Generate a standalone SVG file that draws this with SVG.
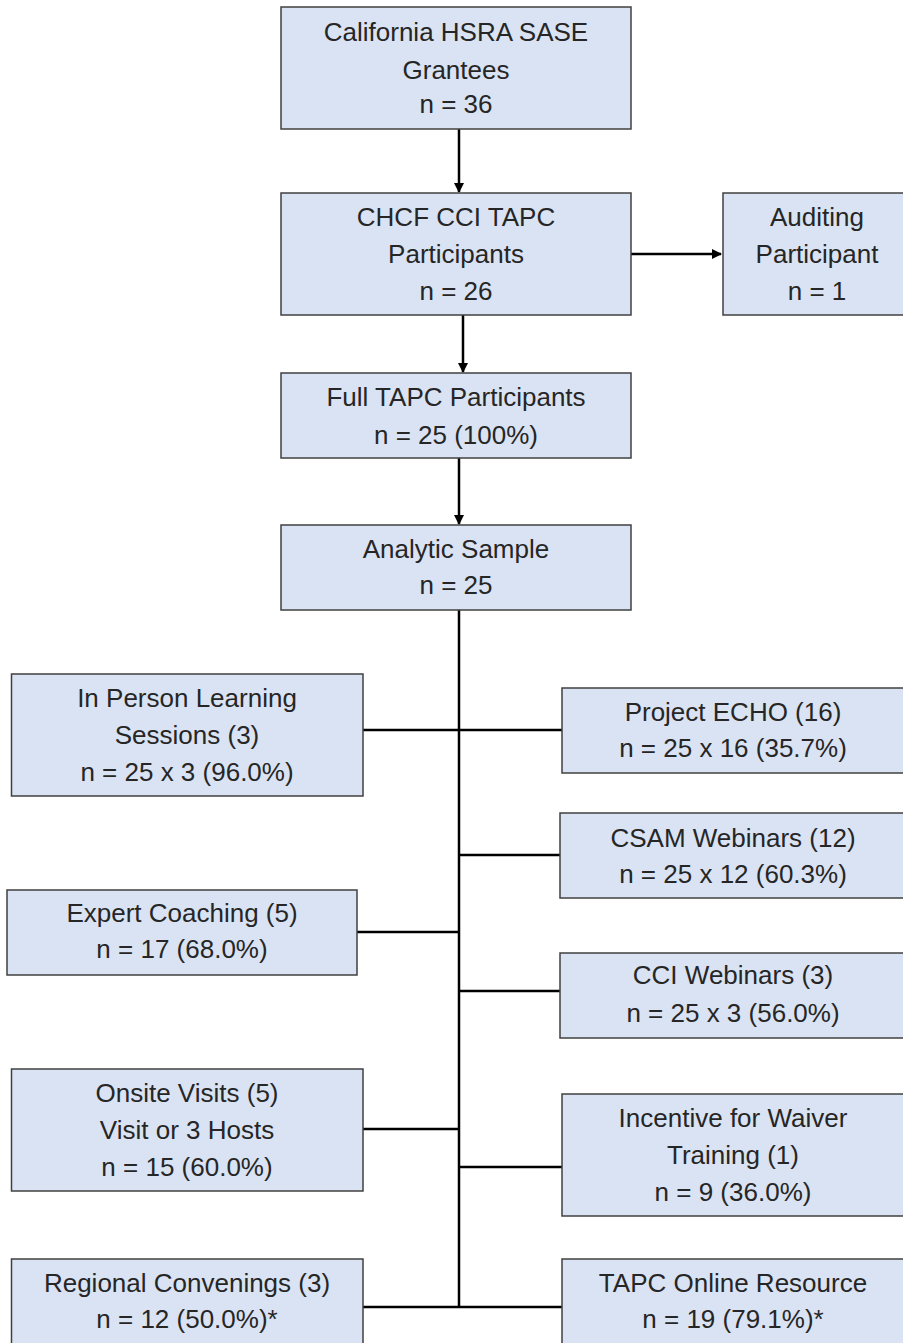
<svg xmlns="http://www.w3.org/2000/svg" width="903" height="1343" viewBox="0 0 903 1343">
<style>
.box{fill:#dae3f3;stroke:#404040;stroke-width:1.5}
.t{font-family:"Liberation Sans",Arial,sans-serif;font-size:26px;fill:#262626;text-anchor:middle}
.c{stroke:#000;stroke-width:2.5;fill:none}
</style>
<defs>
<marker id="ah" viewBox="0 0 10 10" refX="9" refY="5" markerWidth="10" markerHeight="10" markerUnits="userSpaceOnUse" orient="auto">
<path d="M0,0 L10,5 L0,10 z" fill="#000"/>
</marker>
</defs>
<rect width="903" height="1343" fill="#fff"/>
<g id="connectors">
<line class="c" x1="459" y1="129" x2="459" y2="192" marker-end="url(#ah)"/>
<line class="c" x1="631" y1="254" x2="721" y2="254" marker-end="url(#ah)"/>
<line class="c" x1="463" y1="315" x2="463" y2="372" marker-end="url(#ah)"/>
<line class="c" x1="459" y1="458" x2="459" y2="524" marker-end="url(#ah)"/>
<line class="c" x1="459" y1="610" x2="459" y2="1308"/>
<line class="c" x1="363" y1="730" x2="562" y2="730"/>
<line class="c" x1="459" y1="855" x2="562" y2="855"/>
<line class="c" x1="357" y1="932" x2="459" y2="932"/>
<line class="c" x1="459" y1="991" x2="562" y2="991"/>
<line class="c" x1="363" y1="1129" x2="459" y2="1129"/>
<line class="c" x1="459" y1="1167" x2="562" y2="1167"/>
<line class="c" x1="363" y1="1307" x2="562" y2="1307"/>
</g>
<g id="n1"><rect class="box" x="281" y="7" width="350" height="122"/>
<text class="t" x="456" y="41">California HSRA SASE</text><text class="t" x="456" y="79">Grantees</text><text class="t" x="456" y="113">n = 36</text></g>
<g id="n2"><rect class="box" x="281" y="193" width="350" height="122"/>
<text class="t" x="456" y="226">CHCF CCI TAPC</text><text class="t" x="456" y="263">Participants</text><text class="t" x="456" y="300">n = 26</text></g>
<g id="n_aud"><rect class="box" x="723" y="193" width="190" height="122"/>
<text class="t" x="817" y="226">Auditing</text><text class="t" x="817" y="263">Participant</text><text class="t" x="817" y="300">n = 1</text></g>
<g id="n3"><rect class="box" x="281" y="373" width="350" height="85"/>
<text class="t" x="456" y="406">Full TAPC Participants</text><text class="t" x="456" y="444">n = 25 (100%)</text></g>
<g id="n4"><rect class="box" x="281" y="525" width="350" height="85"/>
<text class="t" x="456" y="558">Analytic Sample</text><text class="t" x="456" y="594">n = 25</text></g>
<g id="n_inperson"><rect class="box" x="11.5" y="674" width="351.5" height="122"/>
<text class="t" x="187" y="707">In Person Learning</text><text class="t" x="187" y="744">Sessions (3)</text><text class="t" x="187" y="781">n = 25 x 3 (96.0%)</text></g>
<g id="n_echo"><rect class="box" x="562" y="688" width="350" height="85"/>
<text class="t" x="733" y="721">Project ECHO (16)</text><text class="t" x="733" y="757">n = 25 x 16 (35.7%)</text></g>
<g id="n_csam"><rect class="box" x="560" y="813" width="350" height="85"/>
<text class="t" x="733" y="847">CSAM Webinars (12)</text><text class="t" x="733" y="883">n = 25 x 12 (60.3%)</text></g>
<g id="n_expert"><rect class="box" x="7" y="890" width="350" height="85"/>
<text class="t" x="182" y="922">Expert Coaching (5)</text><text class="t" x="182" y="958">n = 17 (68.0%)</text></g>
<g id="n_cci"><rect class="box" x="560" y="953" width="350" height="85"/>
<text class="t" x="733" y="984">CCI Webinars (3)</text><text class="t" x="733" y="1022">n = 25 x 3 (56.0%)</text></g>
<g id="n_onsite"><rect class="box" x="11.5" y="1069" width="351.5" height="122"/>
<text class="t" x="187" y="1102">Onsite Visits (5)</text><text class="t" x="187" y="1139">Visit or 3 Hosts</text><text class="t" x="187" y="1176">n = 15 (60.0%)</text></g>
<g id="n_incentive"><rect class="box" x="562" y="1094" width="350" height="122"/>
<text class="t" x="733" y="1127">Incentive for Waiver</text><text class="t" x="733" y="1164">Training (1)</text><text class="t" x="733" y="1201">n = 9 (36.0%)</text></g>
<g id="n_regional"><rect class="box" x="11.5" y="1259" width="351.5" height="95"/>
<text class="t" x="187" y="1292">Regional Convenings (3)</text><text class="t" x="187" y="1328">n = 12 (50.0%)*</text></g>
<g id="n_online"><rect class="box" x="562" y="1259" width="350" height="95"/>
<text class="t" x="733" y="1292">TAPC Online Resource</text><text class="t" x="733" y="1328">n = 19 (79.1%)*</text></g>
</svg>
